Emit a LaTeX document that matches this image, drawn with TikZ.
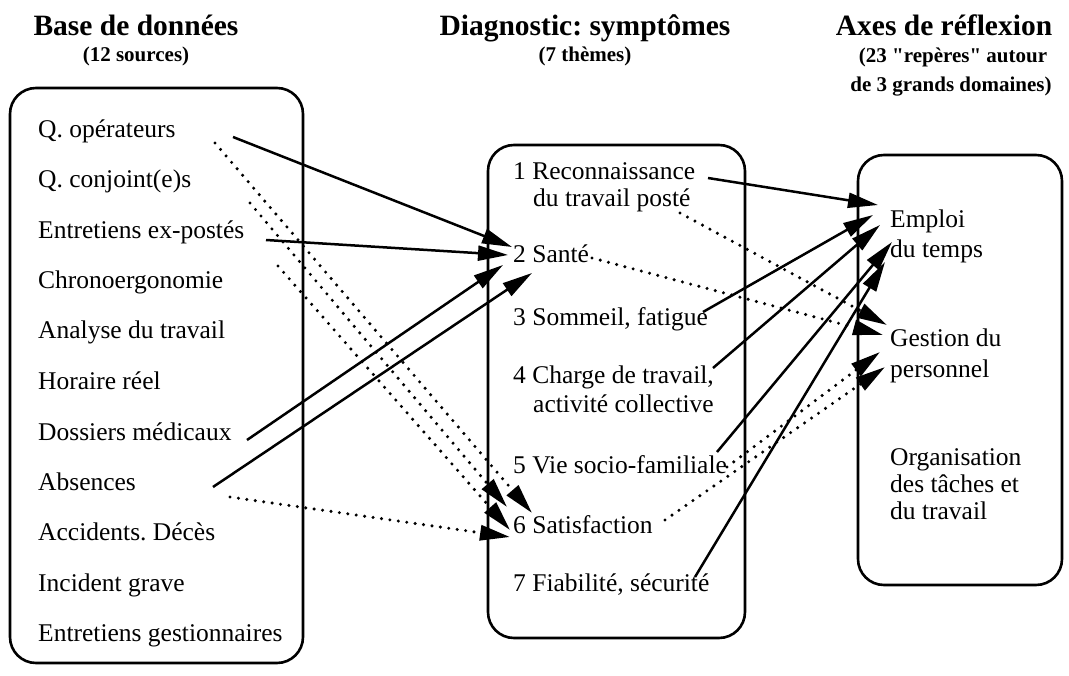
\documentclass[tikz,border=0pt]{standalone}
\usepackage{fontspec}
\setmainfont{Liberation Serif}
\usetikzlibrary{arrows.meta}
\frenchspacing
% straight double quote, set as a glyph so the TeX ligature mapping keeps it straight
\newcommand\straightquote{\XeTeXglyph\XeTeXcharglyph"22\relax}
\begin{document}
\begin{tikzpicture}[x=1pt,y=-1pt,
  box/.style={draw,line width=2.6pt,rounded corners=26pt},
  item/.style={anchor=base west,inner sep=0pt,font=\fontsize{25.5}{30}\selectfont},
  title/.style={anchor=base,inner sep=0pt,font=\bfseries\fontsize{29.5}{34}\selectfont},
  subtitle/.style={anchor=base,inner sep=0pt,font=\bfseries\fontsize{21}{25}\selectfont},
  tip/.style={-{Triangle[length=30pt,width=15pt]}},
  link/.style={tip,line width=2.5pt},
  dotlink/.style={tip,line width=3.4pt,line cap=round,dash pattern=on 0pt off 8.5pt},
]
\useasboundingbox (0,0) rectangle (1069,676);

% column headings
\node[title]    (h1)  at (136,36) {Base de données};
\node[subtitle] (h1s) at (136,62) {(12 sources)};
\node[title]    (h2)  at (585,36) {Diagnostic: symptômes};
\node[subtitle] (h2s) at (585,62) {(7 thèmes)};
\node[title]    (h3)  at (944,36) {Axes de réflexion};
\node[subtitle] (h3s) at (953,63) {(23 \straightquote repères\straightquote{} autour};
\node[subtitle] (h3t) at (951,92) {de 3 grands domaines)};

% the three frames
\draw[box] (10,88) rectangle (303,663);
\draw[box] (488,145) rectangle (745,638);
\draw[box] (858,155) rectangle (1062,585);

% data sources
\node[item] (s1)  at (38,138) {Q. opérateurs};
\node[item] (s2)  at (38,188) {Q. conjoint(e)s};
\node[item] (s3)  at (38,239) {Entretiens ex-postés};
\node[item] (s4)  at (38,289) {Chronoergonomie};
\node[item] (s5)  at (38,339) {Analyse du travail};
\node[item] (s6)  at (38,390) {Horaire réel};
\node[item] (s7)  at (38,440) {Dossiers médicaux};
\node[item] (s8)  at (38,490) {Absences};
\node[item] (s9)  at (38,540) {Accidents. Décès};
\node[item] (s10) at (38,591) {Incident grave};
\node[item] (s11) at (38,641) {Entretiens gestionnaires};

% symptom themes
\node[item] (m1)  at (513,180) {1 Reconnaissance};
\node[item] (m1b) at (533,207) {du travail posté};
\node[item] (m2)  at (513,263) {2 Santé};
\node[item] (m3)  at (513,326) {3 Sommeil, fatigue};
\node[item] (m4)  at (513,384) {4 Charge de travail,};
\node[item] (m4b) at (533,413) {activité collective};
\node[item] (m5)  at (513,473) {5 Vie socio-familiale};
\node[item] (m6)  at (513,533) {6 Satisfaction};
\node[item] (m7)  at (513,591) {7 Fiabilité, sécurité};

% lines of reflection
\node[item] (r1)  at (890,228) {Emploi};
\node[item] (r1b) at (890,258) {du temps};
\node[item] (r2)  at (890,347) {Gestion du};
\node[item] (r2b) at (890,378) {personnel};
\node[item] (r3)  at (890,465) {Organisation};
\node[item] (r3b) at (890,492) {des tâches et};
\node[item] (r3c) at (890,519) {du travail};

% sources -> themes
\draw[link] ([shift={(195,-1)}]s1.base west) -- ([shift={(-1,-16)}]m2.base west);
\draw[link] ([shift={(228,1)}]s3.base west)  -- ([shift={(-5,-8)}]m2.base west);
\draw[link] ([shift={(209,0)}]s7.base west)  -- ([shift={(-10,2)}]m2.base west);
\draw[link] ([shift={(175,-3)}]s8.base west) -- ([shift={(19,10)}]m2.base west);

\draw[dotlink] ([shift={(177,5)}]s1.base west)  -- ([shift={(19,-20)}]m6.base west);
\draw[dotlink] ([shift={(212,15)}]s2.base west) -- ([shift={(-6,-26)}]m6.base west);
\draw[dotlink] ([shift={(240,27)}]s3.base west) -- ([shift={(-3,-3)}]m6.base west);
\draw[dotlink] ([shift={(192,7)}]s8.base west)  -- ([shift={(-3,4)}]m6.base west);

% themes -> lines of reflection
\draw[link] ([shift={(195,-2)}]m1.base west)  -- ([shift={(-12,-23)}]r1.base west);
\draw[link] ([shift={(190,-14)}]m3.base west) -- ([shift={(-17,-13)}]r1.base west);
\draw[link] ([shift={(200,-16)}]m4.base west) -- ([shift={(-10,-3)}]r1.base west);
\draw[link] ([shift={(204,-21)}]m5.base west) -- ([shift={(2,14)}]r1.base west);
\draw[link] ([shift={(182,-14)}]m7.base west) -- ([shift={(-5,34)}]r1.base west);

\draw[dotlink] ([shift={(147,6)}]m1b.base west) -- ([shift={(-3,-22)}]r2.base west);
\draw[dotlink] ([shift={(79,-5)}]m2.base west)  -- ([shift={(-7,-12)}]r2.base west);
\draw[dotlink] ([shift={(214,-6)}]m5.base west) -- ([shift={(-10,-26)}]r2b.base west);
\draw[dotlink] ([shift={(152,-13)}]m6.base west) -- ([shift={(-5,-11)}]r2b.base west);
\end{tikzpicture}
\end{document}
